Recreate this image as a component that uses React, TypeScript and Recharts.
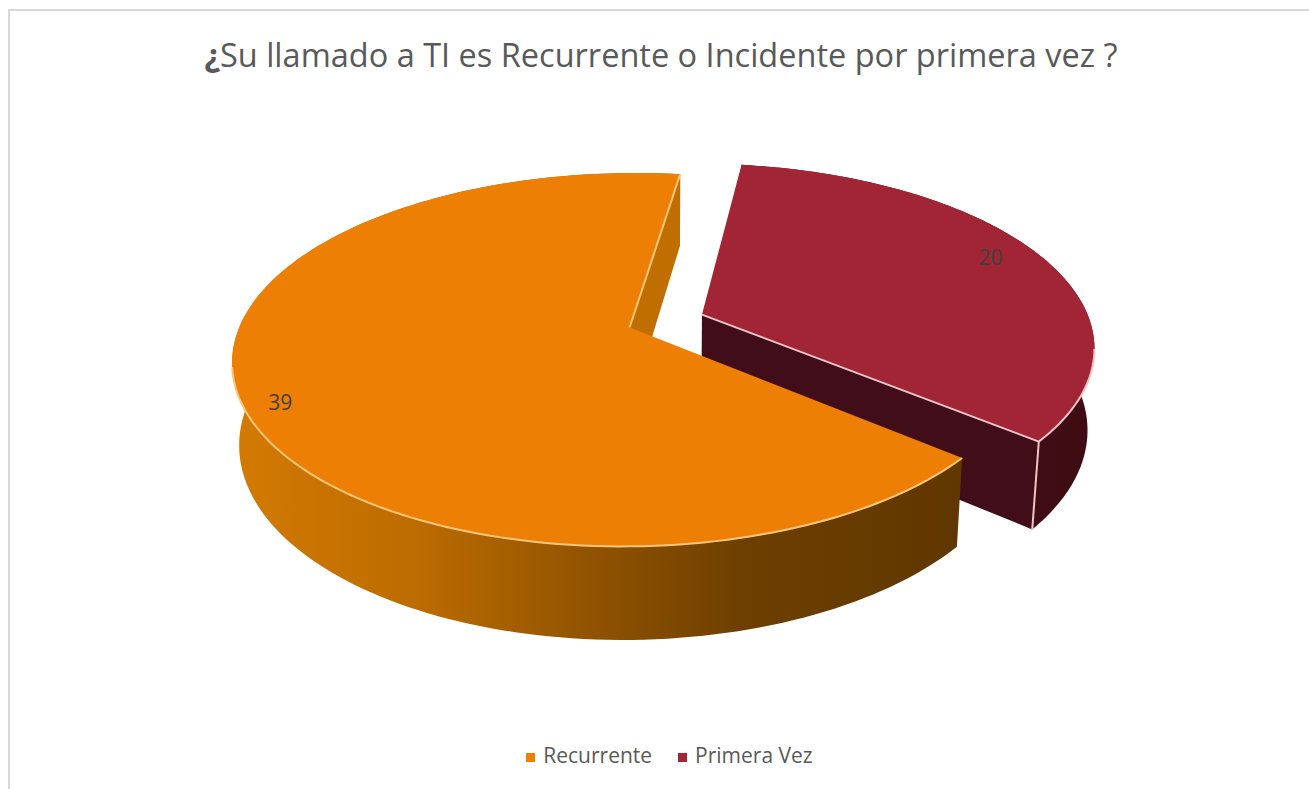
import React from 'react';
import { PieChart, Pie, Legend } from 'recharts';

// Slices are listed back to front so the larger slice paints over the smaller one.
const categories = ['Primera Vez', 'Recurrente'];
const values = [20, 39];
const legendOrder = ['Recurrente', 'Primera Vez'];
const topColors = ['#a22535', '#ee7f05'];

const tableRows = categories.map((name, i) => ({ name, value: values[i], fill: topColors[i] }));

const TITLE_LEAD = '¿';
const TITLE_REST = 'Su llamado a TI es Recurrente o Incidente por primera vez ?';

// Shading of the extruded walls for each slice.
const wallStyles: Record<string, { stops: [number, string][]; side: string; edge: string }> = {
  Recurrente: {
    stops: [[0, '#d37a02'], [0.25, '#bd6c00'], [0.5, '#8f5200'], [0.7, '#6d3f00'], [1, '#603700']],
    side: '#c06e00',
    edge: '#ffc67a',
  },
  'Primera Vez': {
    stops: [[0, '#420d18'], [1, '#3f0c14']],
    side: '#410d18',
    edge: '#eec4c8',
  },
};

const labelPlacement: Record<string, { r: number; dx: number; dy: number }> = {
  Recurrente: { r: 0.9, dx: 0, dy: 12 },
  'Primera Vez': { r: 0.85, dx: 0, dy: -6 },
};

// Perspective camera used to turn the flat disc into a tilted slab.
const TILT = 0.461;
const RECEDE = 0.1716;
const THICKNESS = 82;
const FLOOR_W = 0.016;
const EXPLODE = 0.1;
const CAMERA_V = -1 / RECEDE;

const rad = (deg: number) => (deg * Math.PI) / 180;

type Disc = { u: number; v: number };

const project = (p: Disc, cx: number, cy: number, R: number, floor: boolean) => {
  const w = 1 + RECEDE * p.v + (floor ? FLOOR_W : 0);
  return {
    x: cx + (R * p.u) / w,
    y: cy - (R * TILT * p.v - (floor ? THICKNESS : 0)) / w,
  };
};

const toPath = (pts: { x: number; y: number }[], close = true) =>
  pts.map((p, i) => `${i ? 'L' : 'M'}${p.x.toFixed(2)} ${p.y.toFixed(2)}`).join('') + (close ? 'Z' : '');

const faces = (n: Disc, p: Disc) => n.u * (0 - p.u) + n.v * (CAMERA_V - p.v) > 0;

function SlabSlice(props: any) {
  const { cx, cy, outerRadius: R, startAngle, endAngle, midAngle, fill, name, payload } = props;
  const key = name ?? payload?.name;
  const style = wallStyles[key];
  const apex: Disc = { u: EXPLODE * Math.cos(rad(midAngle)), v: EXPLODE * Math.sin(rad(midAngle)) };
  const steps = 160;
  const arc: Disc[] = [];
  const arcAngles: number[] = [];
  for (let i = 0; i <= steps; i += 1) {
    const a = startAngle + ((endAngle - startAngle) * i) / steps;
    arcAngles.push(a);
    arc.push({ u: apex.u + Math.cos(rad(a)), v: apex.v + Math.sin(rad(a)) });
  }
  const top = (p: Disc) => project(p, cx, cy, R, false);
  const low = (p: Disc) => project(p, cx, cy, R, true);

  const arcTop = arc.map(top);
  const arcLow = arc.map(low);
  const faceD = toPath([top(apex), ...arcTop]);
  const wallD = toPath([...arcTop, ...[...arcLow].reverse()]);

  // Radial cut faces: only the ones turned toward the camera are drawn.
  const first = arc[0];
  const last = arc[steps];
  const startNormal = { u: -Math.sin(rad(startAngle)), v: Math.cos(rad(startAngle)) };
  const endNormal = { u: Math.sin(rad(endAngle)), v: -Math.cos(rad(endAngle)) };
  const cuts = [
    { rim: first, angle: startAngle, seen: faces(startNormal, apex) },
    { rim: last, angle: endAngle, seen: faces(endNormal, apex) },
  ].filter((c) => c.seen);

  // Bright rim along the part of the arc that faces the camera.
  const rimRuns: { x: number; y: number }[][] = [];
  let run: { x: number; y: number }[] = [];
  arc.forEach((p, i) => {
    const n = { u: Math.cos(rad(arcAngles[i])), v: Math.sin(rad(arcAngles[i])) };
    if (faces(n, p) && p.v < 0.02) run.push(arcTop[i]);
    else if (run.length) {
      rimRuns.push(run);
      run = [];
    }
  });
  if (run.length) rimRuns.push(run);

  const gradId = `wall-${values[categories.indexOf(key)]}`;
  const xs = [...arcTop, ...arcLow].map((p) => p.x);
  return (
    <g>
      <defs>
        <linearGradient
          id={gradId}
          gradientUnits="userSpaceOnUse"
          x1={Math.min(...xs)}
          x2={Math.max(...xs)}
          y1={0}
          y2={0}
        >
          {style.stops.map(([o, c]) => (
            <stop key={o} offset={o} stopColor={c} />
          ))}
        </linearGradient>
      </defs>
      <path d={wallD} fill={`url(#${gradId})`} />
      {cuts.map((c, i) => (
        <path
          key={i}
          d={toPath([top(apex), top(c.rim), low(c.rim), low(apex)])}
          fill={style.side}
        />
      ))}
      <path d={faceD} fill={fill} />
      {rimRuns.map((r, i) => (
        <path key={i} d={toPath(r, false)} fill="none" stroke={style.edge} strokeWidth={2} />
      ))}
      {cuts.map((c, i) => {
        const n = { u: Math.cos(rad(c.angle)), v: Math.sin(rad(c.angle)) };
        return (
          <g key={i}>
            <path d={toPath([top(apex), top(c.rim)], false)} fill="none" stroke={style.edge} strokeWidth={2} />
            {faces(n, c.rim) ? (
              <path d={toPath([top(c.rim), low(c.rim)], false)} fill="none" stroke={style.edge} strokeWidth={2} />
            ) : null}
          </g>
        );
      })}
    </g>
  );
}

function sliceLabel(props: any) {
  const { cx, cy, outerRadius: R, midAngle, value, name, payload } = props;
  const place = labelPlacement[name ?? payload?.name];
  const c = Math.cos(rad(midAngle));
  const s = Math.sin(rad(midAngle));
  const at = project(
    { u: EXPLODE * c + place.r * c, v: EXPLODE * s + place.r * s },
    cx,
    cy,
    R,
    false,
  );
  return (
    <text
      x={at.x + place.dx}
      y={at.y + place.dy}
      fill="#404040"
      fontFamily="'Open Sans', sans-serif"
      fontSize={21}
      textAnchor="middle"
      dominantBaseline="central"
    >
      {value}
    </text>
  );
}

export default function App() {
  return (
    <div style={{ position: 'absolute', left: 0, top: 0, width: 1309, height: 789, background: '#fff', overflow: 'hidden' }}>
      <div
        style={{
          position: 'absolute',
          left: 8,
          top: 9,
          width: 1309,
          height: 789,
          borderLeft: '2px solid #d9d9d9',
          borderTop: '2px solid #d9d9d9',
        }}
      />
      <div style={{ position: 'absolute', left: 0, top: 0 }}>
        <PieChart width={1309} height={789} margin={{ top: 0, right: 0, bottom: 0, left: 0 }}>
          <text
            x={661}
            y={54}
            textAnchor="middle"
            dominantBaseline="central"
            fill="#595959"
            fontFamily="'Open Sans', sans-serif"
            fontSize={32.5}
          >
            <tspan fontWeight={700}>{TITLE_LEAD}</tspan>
            {TITLE_REST}
          </text>
          <Pie
            data={tableRows}
            dataKey="value"
            nameKey="name"
            cx={666}
            cy={321}
            innerRadius={0}
            outerRadius={388}
            startAngle={82.2}
            endAngle={-277.8}
            stroke="none"
            isAnimationActive={false}
            shape={SlabSlice}
            label={sliceLabel}
            labelLine={false}
          />
          <Legend
            layout="horizontal"
            verticalAlign="bottom"
            align="center"
            iconType="square"
            iconSize={9}
            itemSorter={(item: any) => legendOrder.indexOf(item.value)}
            wrapperStyle={{
              position: 'absolute',
              left: 0,
              top: 741,
              width: 1349,
              fontFamily: "'Open Sans', sans-serif",
              fontSize: 21,
            }}
            formatter={(v: string) => (
              <span
                style={{
                  color: '#595959',
                  marginLeft: 4,
                  marginRight: v === legendOrder[0] ? 16 : 0,
                }}
              >
                {v}
              </span>
            )}
          />
        </PieChart>
      </div>
    </div>
  );
}
